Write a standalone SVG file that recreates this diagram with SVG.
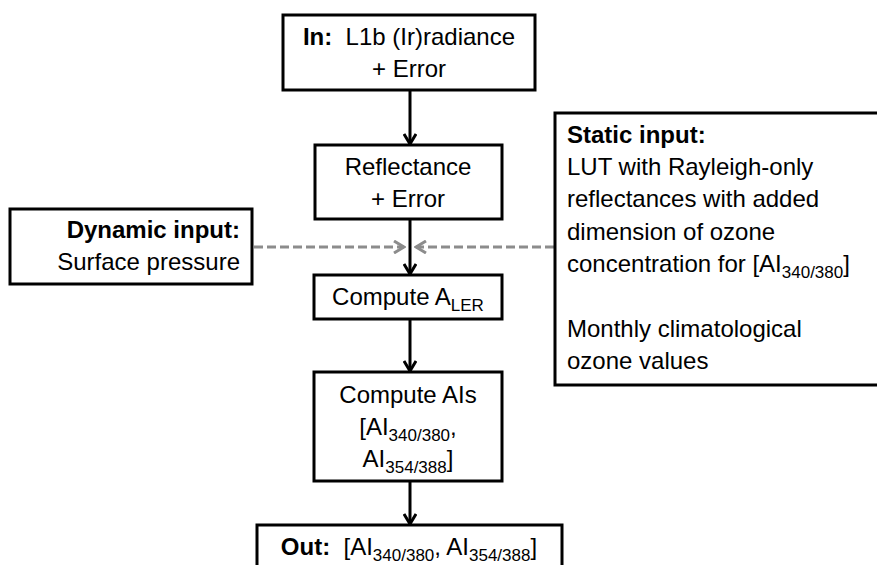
<svg xmlns="http://www.w3.org/2000/svg" width="877" height="565" viewBox="0 0 877 565">
<style>
.box{fill:#fff;stroke:#000;stroke-width:3}
text{font-family:"Liberation Sans",Arial,sans-serif;font-size:24px;fill:#000}
.c{text-anchor:middle}
.r{text-anchor:end}
.b{font-weight:bold}
.sub{font-size:17px}
.flow{stroke:#000;stroke-width:3;fill:none}
.dash{stroke:#8c8c8c;stroke-width:3;fill:none;stroke-dasharray:9 4}
</style>
<defs>
<marker id="ah" viewBox="0 0 14 14" refX="12" refY="7" markerWidth="14" markerHeight="14" orient="auto" markerUnits="userSpaceOnUse">
<path d="M2,1 L12,7 L2,13" fill="none" stroke="#000" stroke-width="3"/>
</marker>
<marker id="ahg" viewBox="0 0 14 14" refX="12" refY="7" markerWidth="14" markerHeight="14" orient="auto" markerUnits="userSpaceOnUse">
<path d="M2,1 L12,7 L2,13" fill="none" stroke="#8c8c8c" stroke-width="3"/>
</marker>
</defs>

<g id="connectors">
<line class="flow" x1="410" y1="90" x2="410" y2="144" marker-end="url(#ah)"/>
<line class="flow" x1="410" y1="219" x2="410" y2="274" marker-end="url(#ah)"/>
<line class="flow" x1="410" y1="319" x2="410" y2="371" marker-end="url(#ah)"/>
<line class="flow" x1="410" y1="481" x2="410" y2="524" marker-end="url(#ah)"/>
<line class="dash" x1="254" y1="247" x2="404" y2="247" marker-end="url(#ahg)"/>
<line class="dash" x1="554" y1="247" x2="416" y2="247" marker-end="url(#ahg)"/>
</g>

<g id="in">
<rect class="box" x="283" y="15" width="252" height="75"/>
<text class="c" x="409" y="45"><tspan class="b">In:</tspan>&#160; L1b (Ir)radiance</text>
<text class="c" x="409" y="77">+ Error</text>
</g>

<g id="reflectance">
<rect class="box" x="315" y="145" width="187" height="74"/>
<text class="c" x="408" y="175">Reflectance</text>
<text class="c" x="408" y="207">+ Error</text>
</g>

<g id="dynamic">
<rect class="box" x="10" y="209" width="242" height="75"/>
<text class="r b" x="240" y="238">Dynamic input:</text>
<text class="r" x="240" y="270">Surface pressure</text>
</g>

<g id="static">
<rect class="box" x="555" y="113" width="340" height="272"/>
<text class="b" x="567" y="143">Static input:</text>
<text x="567" y="175">LUT with Rayleigh-only</text>
<text x="567" y="207">reflectances with added</text>
<text x="567" y="240">dimension of ozone</text>
<text x="567" y="272">concentration for [AI<tspan class="sub" dy="6">340/380</tspan><tspan dy="-6">]</tspan></text>
<text x="567" y="337">Monthly climatological</text>
<text x="567" y="369">ozone values</text>
</g>

<g id="aler">
<rect class="box" x="314" y="275" width="188" height="44"/>
<text class="c" x="408" y="305">Compute A<tspan class="sub" dy="6">LER</tspan></text>
</g>

<g id="ais">
<rect class="box" x="314" y="372" width="188" height="109"/>
<text class="c" x="408" y="403">Compute AIs</text>
<text class="c" x="408" y="435">[AI<tspan class="sub" dy="6">340/380</tspan><tspan dy="-6">,</tspan></text>
<text class="c" x="408" y="467">AI<tspan class="sub" dy="6">354/388</tspan><tspan dy="-6">]</tspan></text>
</g>

<g id="out">
<rect class="box" x="257" y="525" width="305" height="60"/>
<text class="c" x="409" y="555"><tspan class="b">Out:</tspan>&#160; [AI<tspan class="sub" dy="6">340/380</tspan><tspan dy="-6">, AI</tspan><tspan class="sub" dy="6">354/388</tspan><tspan dy="-6">]</tspan></text>
</g>
</svg>
